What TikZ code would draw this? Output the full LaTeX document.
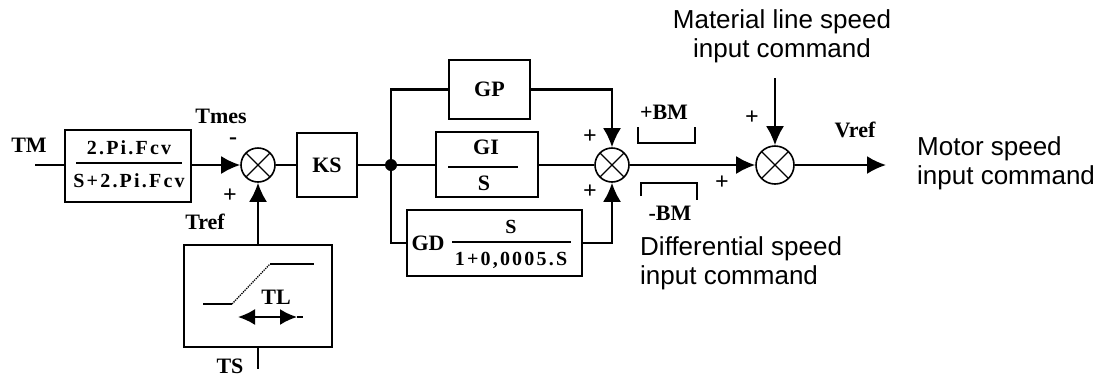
\documentclass[tikz,border=0pt]{standalone}
\usepackage{fontspec}
\setmainfont{Liberation Serif}
\newfontfamily\sansf{Liberation Sans}
\newfontfamily\fspaced[LetterSpace=11]{Liberation Serif}
\usetikzlibrary{arrows.meta}
\begin{document}
\begin{tikzpicture}[x=1pt,y=-1pt,
  lbl/.style={font=\bfseries\fontsize{22}{24}\selectfont, inner sep=0pt},
  sgn/.style={font=\bfseries\fontsize{24}{24}\selectfont, inner sep=0pt},
  formula/.style={font=\fspaced\bfseries\fontsize{20}{23}\selectfont, inner sep=0pt},
  big/.style={font=\sansf\fontsize{26}{29}\selectfont, align=left, inner sep=0pt},
  blk/.style={draw, line width=2.2pt, inner sep=0pt},
  wire/.style={line width=2.2pt},
  thinw/.style={line width=2pt},
  arr/.style={-{Latex[length=19pt,width=18pt]}},
  sumj/.style={circle, draw, line width=1.6pt, minimum size=34pt, inner sep=0pt,
    path picture={\draw[line width=1.1pt]
      (path picture bounding box.north west)--(path picture bounding box.south east)
      (path picture bounding box.north east)--(path picture bounding box.south west);}},
  dotn/.style={circle, fill, minimum size=12pt, inner sep=0pt}
]
\useasboundingbox (0,0) rectangle (1108,376);

% input TM
\node[lbl] (tm) at (29,145) {TM};
\coordinate (tmin) at (35,165);

% first block
\node[blk, minimum width=126pt, minimum height=72pt] (b1) at (128,166) {};
\node[formula] (b1n) at (129,148) {2.Pi.Fcv};
\node[formula] (b1d) at (129,181) {S+2.Pi.Fcv};
\draw[wire] (76,163) -- (182,163);
\draw[wire] (tmin) -- (b1.west |- tmin);

% sum 1
\node[sumj] (s1) at (258,165) {};
\draw[wire, arr] (b1.east |- s1) -- (s1.west);
\node[lbl] (tmes) at (221,116) {Tmes};
\node[sgn] (m1) at (233,141) {-};
\node[sgn] (p1) at (230,196) {+};
\node[lbl] (tref) at (205,222) {Tref};

% TL box
\node[blk, minimum width=148pt, minimum height=102pt] (tl) at (258,296) {};
\draw[thinw] (203,304) -- (232,304);
\draw[line width=1.3pt, densely dotted] (232,304) -- (270,264);
\draw[thinw] (270,264) -- (314,264);
\node[lbl] (tlt) at (276,297) {TL};
\draw[thinw, {Latex[length=17pt,width=16pt]}-{Latex[length=17pt,width=16pt]}] (238,317) -- (297,317);
\draw[thinw] (297,317) -- (303,317);
\draw[wire, arr] (tl.north) -- (s1.south);
\coordinate (tsin) at (258,369);
\draw[wire] (tl.south) -- (tsin);
\node[lbl] (ts) at (230,366) {TS};

% KS
\node[blk, minimum width=60pt, minimum height=64pt] (ks) at (327,165) {};
\node[lbl] (kst) at (327,165) {KS};
\draw[wire] (s1.east) -- (ks.west);
\node[dotn] (dot) at (391,165) {};
\draw[wire] (ks.east) -- (dot);

% GP
\node[blk, minimum width=81pt, minimum height=59pt] (gp) at (489.5,89.5) {};
\node[lbl] (gpt) at (489.5,89.5) {GP};
% GI/S
\node[blk, minimum width=102pt, minimum height=65pt] (gi) at (487,164.5) {};
\node[lbl] (gin) at (486,147) {GI};
\node[lbl] (gid) at (484,183) {S};
\draw[wire] (448,167) -- (518,167);
% GD
\node[blk, minimum width=175pt, minimum height=66pt] (gd) at (494.5,243) {};
\node[lbl] (gdt) at (428,243) {GD};
\node[formula] (gdn) at (511,227) {S};
\node[formula] (gdd) at (511,260) {1+0,0005.S};
\draw[wire] (452,242) -- (571,242);

% sum 2
\node[sumj] (s2) at (612,165) {};
\draw[wire] (dot) |- (gp.west);
\draw[wire] (dot) -- (gi.west |- dot);
\draw[wire] (dot) |- (gd.west);
\draw[wire, arr] (gp.east) -| (s2.north);
\draw[wire] (gi.east |- s2) -- (s2.west);
\draw[wire, arr] (gd.east) -| (s2.south);
\node[sgn] (p2a) at (590,137) {+};
\node[sgn] (p2b) at (590,192) {+};

% limits
\node[lbl] (pbm) at (664,112) {+BM};
\draw[thinw] (638,127) -- (638,143) -- (695,143) -- (695,127);
\node[lbl] (mbm) at (670,213) {-BM};
\draw[thinw] (641,196) -- (641,183) -- (697,183) -- (697,200);
\node[sgn] (p3) at (722,183) {+};

% sum 3
\node[sumj, minimum size=38pt] (s3) at (775,165) {};
\draw[wire, arr] (s2.east) -- (s3.west);
\coordinate (matin) at (775,78);
\draw[wire, arr] (matin) -- (s3.north);
\node[sgn] (p4) at (752,118) {+};
\coordinate (vout) at (886,165);
\draw[wire, arr] (s3.east) -- (vout);
\node[lbl] (vref) at (855,130) {Vref};

% big labels
\node[big, align=center] (mat) at (782,36) {Material line speed\\input command};
\node[big, anchor=west] (mot) at (917,163) {Motor speed\\input command};
\node[big, anchor=west] (dif) at (640,263) {Differential speed\\input command};
\end{tikzpicture}
\end{document}
